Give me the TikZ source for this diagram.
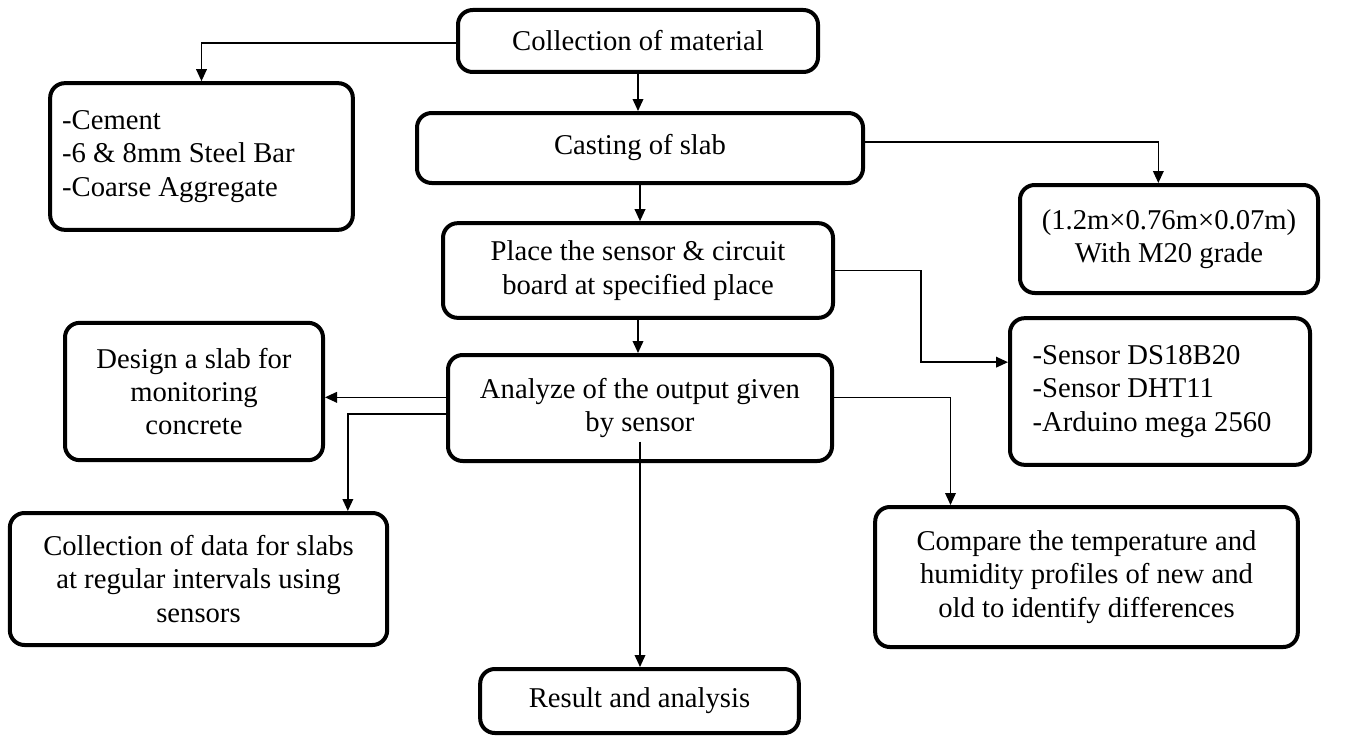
\documentclass[tikz,border=0pt]{standalone}
\usepackage{fontspec}
\setmainfont{Liberation Serif}
\usetikzlibrary{arrows.meta}

\begin{document}
\begin{tikzpicture}[x=0.75pt,y=-0.75pt,
  blk/.style={draw,line width=3pt,rounded corners=11pt,align=center,inner sep=0pt,
    font=\fontsize{21.5}{25}\selectfont},
  arr/.style={line width=1.1pt,-{Triangle[length=9pt,width=8pt]}}]
\useasboundingbox (0,0) rectangle (1345,735);

% main column
\node[blk,minimum width=270pt,minimum height=46.5pt] (coll) at (638,41) {Collection of material};
\node[blk,minimum width=334.5pt,minimum height=52.5pt] (cast) at (640,148) {Casting of slab};
\node[blk,minimum width=292.5pt,minimum height=71pt] (place) at (638,270.5) {Place the sensor \& circuit\\board at specified place};
\node[blk,minimum width=288pt,minimum height=79.5pt] (anal) at (640,408) {Analyze of the output given\\by sensor};
\node[blk,minimum width=239pt,minimum height=48pt] (res) at (639.5,701) {Result and analysis};

% side boxes
\node[blk,align=flush left,inner xsep=9pt,text width=209pt,minimum height=110pt] (mat) at (201.5,156.5)
  {-Cement\\-6 \& 8mm Steel Bar\\-Coarse Aggregate};
\node[blk,minimum width=223.5pt,minimum height=81pt] (dims) at (1169,239) {(1.2m×0.76m×0.07m)\\With M20 grade};
\node[blk,align=flush left,inner xsep=17pt,text width=191pt,minimum height=110pt] (sens) at (1160,391.5)
  {-Sensor DS18B20\\-Sensor DHT11\\-Arduino mega 2560};
\node[blk,minimum width=193.5pt,minimum height=103pt] (design) at (194,391.5) {Design a slab for\\monitoring\\concrete};
\node[blk,minimum width=283pt,minimum height=99pt] (data) at (198.5,579) {Collection of data for slabs\\at regular intervals using\\sensors};
\node[blk,minimum width=317pt,minimum height=105pt] (comp) at (1086.5,577) {Compare the temperature and\\humidity profiles of new and\\old to identify differences};

% connectors
\foreach \a/\b in {coll/cast,cast/place,place/anal}
  \draw[arr] (\a.south) -- (\a.south |- \b.north);
\draw[arr] ([yshift=-1.5pt]coll.west) -| (mat.north);
\draw[arr] ([yshift=4.5pt]cast.east) -| ([xshift=-8pt]dims.north);
\draw[arr] (place.east) -- ++(86,0) |- ([yshift=22pt]sens.west);
\draw[arr] ([yshift=8pt]anal.west) coordinate (p) -- (p -| design.east);
\draw[arr] ([yshift=-4.5pt]anal.west) -| ([xshift=112pt]data.north);
\draw[arr] ([yshift=8pt]anal.east) -| ([xshift=-102pt]comp.north);
\draw[arr] ([yshift=16pt]anal.south) -- (anal.south |- res.north);

\end{tikzpicture}
\end{document}
